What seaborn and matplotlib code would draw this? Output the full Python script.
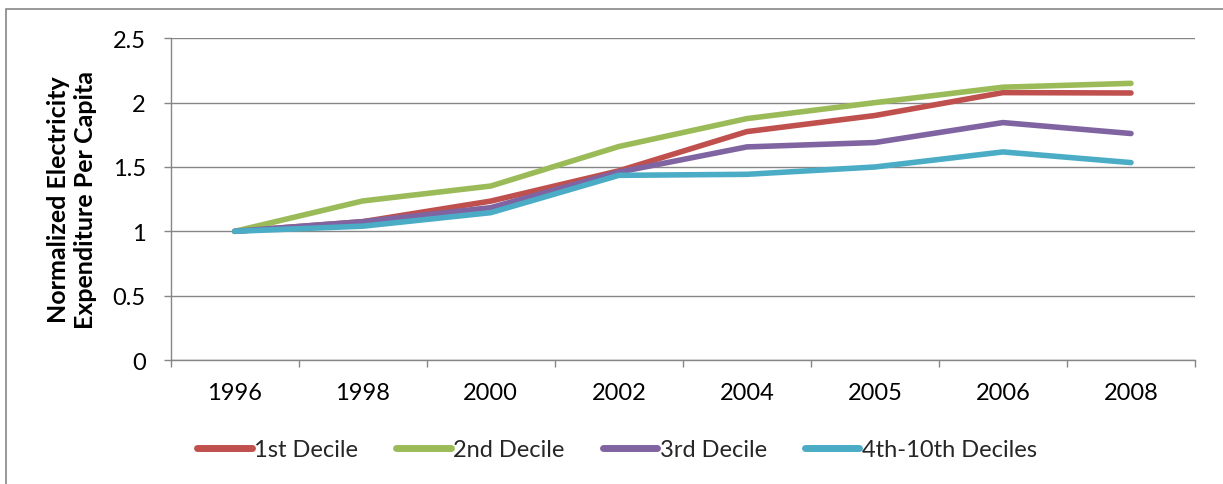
import matplotlib
matplotlib.use("Agg")
import matplotlib.pyplot as plt
from matplotlib.patches import Rectangle
import seaborn as sns
import pandas as pd

years = ["1996", "1998", "2000", "2002", "2004", "2005", "2006", "2008"]
series_names = ["1st Decile", "2nd Decile", "3rd Decile", "4th-10th Deciles"]
decile_1 = [1.00, 1.075, 1.235, 1.47, 1.775, 1.90, 2.078, 2.075]
decile_2 = [1.00, 1.236, 1.352, 1.659, 1.876, 2.00, 2.12, 2.15]
decile_3 = [1.00, 1.075, 1.184, 1.46, 1.656, 1.69, 1.845, 1.76]
deciles_4_10 = [1.00, 1.04, 1.145, 1.435, 1.443, 1.50, 1.617, 1.534]
y_ticks = [0, 0.5, 1, 1.5, 2, 2.5]
y_tick_labels = ["0", "0.5", "1", "1.5", "2", "2.5"]
colors = ["#C0504D", "#9BBB59", "#8064A2", "#4BACC6"]

rows = []
for name, vals in zip(series_names, [decile_1, decile_2, decile_3, deciles_4_10]):
    for i, (yr, v) in enumerate(zip(years, vals)):
        rows.append({"pos": i, "year": yr, "series": name, "value": v})
df = pd.DataFrame(rows)

sns.set_theme(style="white")
plt.rcParams["font.family"] = ["Lato", "DejaVu Sans"]

W, H = 1223, 485
fig = plt.figure(figsize=(W / 100, H / 100), dpi=100)
left, right, top, bottom = 170.7, 1195, 39.3, 361
ax = fig.add_axes([left / W, 1 - bottom / H, (right - left) / W, (bottom - top) / H])

grid_c = "#868686"
fs = 17
sns.lineplot(data=df, x="pos", y="value", hue="series", hue_order=series_names,
             palette=colors, linewidth=4.0, sort=False, ax=ax, legend=True)
for ln in ax.get_lines():
    ln.set_solid_capstyle("round")
    ln.set_solid_joinstyle("round")

ax.set_xlim(-0.5, len(years) - 0.5)
ax.set_ylim(0, 2.5)
ax.set_yticks(y_ticks)
ax.set_yticklabels(y_tick_labels)
ax.set_xticks(range(len(years)))
ax.set_xticklabels(years)
ax.set_xticks([i - 0.5 for i in range(len(years) + 1)], minor=True)

ax.yaxis.grid(True, color=grid_c, linewidth=1.0)
ax.xaxis.grid(False)
ax.set_axisbelow(True)
for s in ["top", "right"]:
    ax.spines[s].set_visible(False)
for s in ["left", "bottom"]:
    ax.spines[s].set_color(grid_c)
    ax.spines[s].set_linewidth(1.0)

ax.tick_params(axis="y", which="major", left=True, length=5, width=1.0,
               color=grid_c, pad=13, labelsize=fs, labelcolor="black")
ax.tick_params(axis="x", which="major", bottom=False, length=0, pad=16,
               labelsize=fs, labelcolor="black")
ax.tick_params(axis="x", which="minor", bottom=True, length=5, width=1.0,
               color=grid_c)
ax.set_xlabel("")
ax.set_ylabel("")

fig.text(72 / W, 1 - 200 / H, "Normalized Electricity\nExpenditure Per Capita",
         rotation=90, ha="center", va="center", multialignment="center",
         fontsize=18, fontweight="bold", color="black", linespacing=1.25)

handles, labels = ax.get_legend_handles_labels()
for h in handles:
    h.set_linewidth(5)
    h.set_solid_capstyle("round")
ax.legend(handles, labels, loc="center", bbox_to_anchor=(617 / W, 1 - 451 / H),
          bbox_transform=fig.transFigure, ncol=4, frameon=False, fontsize=fs,
          handlelength=2.3, handletextpad=0.12, columnspacing=1.6,
          borderaxespad=0, borderpad=0)

fig.patches.append(Rectangle((6 / W, -0.1), 1.2, 1.1 - 9.5 / H,
                             transform=fig.transFigure, fill=False,
                             edgecolor=grid_c, linewidth=1.2))

fig.savefig("out.png", dpi=100, facecolor="white")
